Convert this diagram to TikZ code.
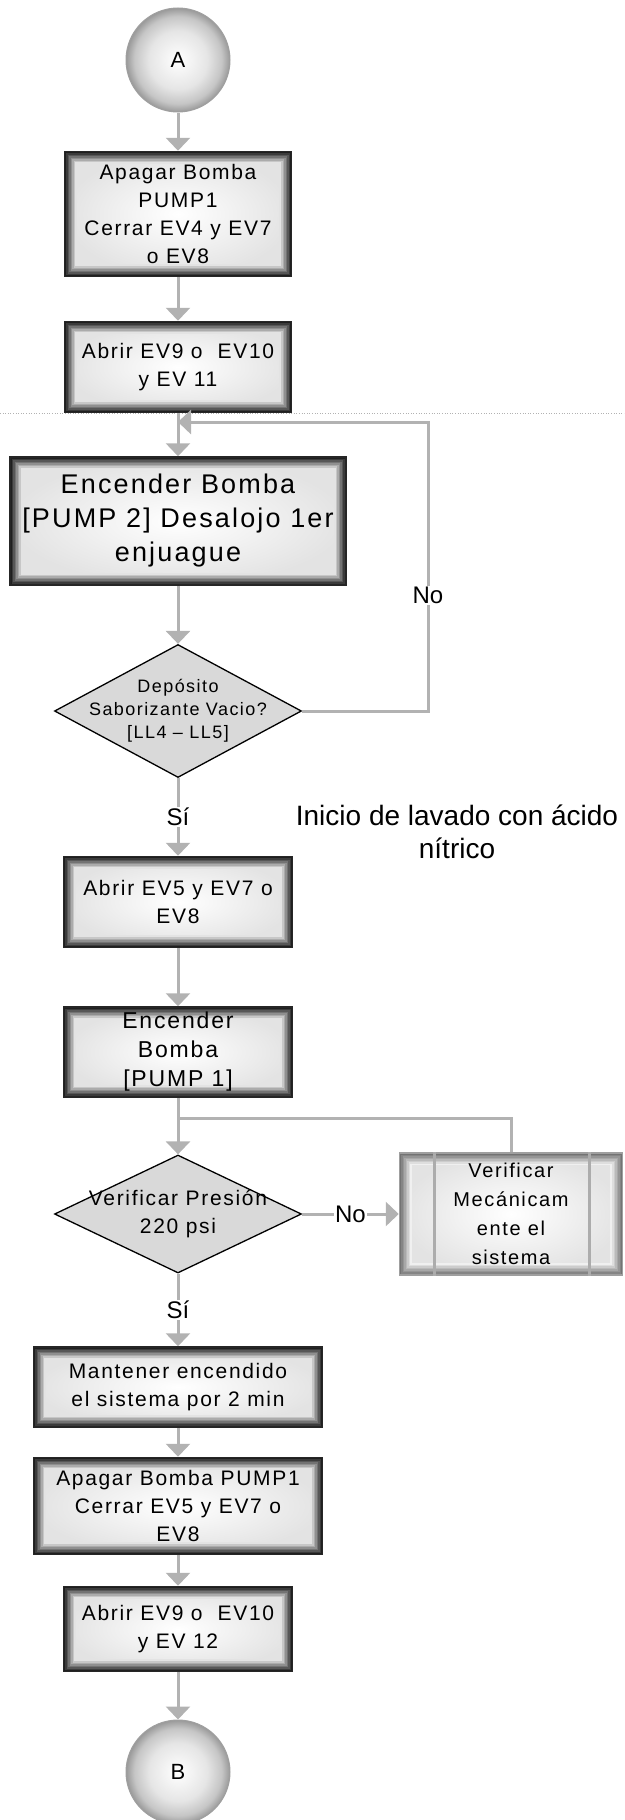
\documentclass[tikz,border=0pt]{standalone}
\usepackage{fontspec}
\setmainfont{Liberation Sans}
\newfontfamily\boxfont{Liberation Sans}[LetterSpace=8]
\usetikzlibrary{shapes.geometric, arrows.meta}

% Shading for the connectors
\pgfdeclareradialshading{ballshade}{\pgfpoint{0bp}{0bp}}{color(0bp)=(white); color(14bp)=(gray!20); color(21bp)=(gray!45); color(25bp)=(gray!80); color(50bp)=(gray!80)}

\tikzset{
    frame/.style={path picture={
        \foreach \i in {0,...,7}{
            \pgfmathtruncatemacro\tone{#1*(1-\i/8)}
            \draw[black!\tone, line width=1.6pt]
                ([shift={(\i*1.5pt+0.8pt,-\i*1.5pt-0.8pt)}]path picture bounding box.north west) rectangle
                ([shift={(-\i*1.5pt-0.8pt,\i*1.5pt+0.8pt)}]path picture bounding box.south east);
        }}},
    frame/.default=88,
    proc/.style={rectangle, draw=black!85, line width=1.5pt, inner color=white, outer color=gray!22, frame,
        align=center, inner sep=0pt, font=\boxfont\fontsize{21}{28}\selectfont},
    decision/.style={diamond, draw=black, line width=1.3pt, fill=gray!30, inner sep=0pt},
    dtext/.style={align=center, inner sep=0pt, font=\boxfont\fontsize{18}{23}\selectfont},
    connector/.style={circle, draw=gray!75, line width=1pt, shading=ballshade,
        minimum size=104pt, font=\fontsize{22}{26}\selectfont},
    flow/.style={draw=gray!60, line width=3pt, -{Triangle[width=24pt,length=13pt]}},
    link/.style={draw=gray!60, line width=3pt},
    tag/.style={fill=white, inner sep=1pt, font=\fontsize{24}{28}\selectfont}
}

\begin{document}
\begin{tikzpicture}[x=1pt, y=-1pt]
        \useasboundingbox (0,0) rectangle (624,1820);

        % Separator
        \draw[dotted, gray!60, line width=0.6pt] (0,413) -- (624,413);

        % Blocks
        \node[connector] (a) at (178,60) {A};
        \node[proc, minimum width=227pt, minimum height=125pt] (off1) at (178,214) {Apagar Bomba\\PUMP1\\Cerrar EV4 y EV7\\o EV8};
        \node[proc, minimum width=227pt, minimum height=91pt] (open1) at (178,367) {Abrir EV9 o\ \ EV10\\y EV 11};
        \node[proc, minimum width=336pt, minimum height=128pt, font=\boxfont\fontsize{27}{34}\selectfont] (pump2) at (178,521) {Encender Bomba\\{[PUMP 2]} Desalojo 1er\\enjuague};
        \node[decision, minimum width=247pt, minimum height=133pt] (tank) at (178,711) {};
        \node[dtext] (tanktxt) at (tank) {Depósito\\Saborizante Vacio?\\{[LL4 – LL5]}};
        \node[font=\fontsize{28}{33}\selectfont, align=center] (acid) at (457,832) {Inicio de lavado con ácido\\nítrico};
        \node[proc, minimum width=229pt, minimum height=91pt] (open2) at (178,902) {Abrir EV5 y EV7 o\\EV8};
        \node[proc, minimum width=229pt, minimum height=90pt, font=\boxfont\fontsize{23}{29}\selectfont] (pump1) at (178,1052) {Encender\\Bomba\\{[PUMP 1]}};
        \node[decision, minimum width=247pt, minimum height=118pt] (press) at (178,1214) {};
        \node[dtext, font=\boxfont\fontsize{21}{28}\selectfont] (presstxt) at (press) {Verificar Presión\\220 psi};
        \node[proc, draw=gray!75, frame=55, minimum width=223pt, minimum height=122pt,
            font=\boxfont\fontsize{20}{29}\selectfont] (mech) at (511,1214) {Verificar\\Mecánicam\\ente el\\sistema};
        \draw[gray!65, line width=3pt] ([xshift=36pt]mech.north west) -- ([xshift=36pt]mech.south west);
        \draw[gray!65, line width=3pt] ([xshift=-34pt]mech.north east) -- ([xshift=-34pt]mech.south east);
        \node[proc, minimum width=289pt, minimum height=80pt] (keep) at (178,1387) {Mantener encendido\\el sistema por 2 min};
        \node[proc, minimum width=289pt, minimum height=97pt] (off2) at (178,1506) {Apagar Bomba PUMP1\\Cerrar EV5 y EV7 o\\EV8};
        \node[proc, minimum width=229pt, minimum height=85pt] (open3) at (178,1629) {Abrir EV9 o\ \ EV10\\y EV 12};
        \node[connector] (b) at (178,1772) {B};

        % Flow
        \coordinate (loop1) at (428,422);
        \coordinate (back1) at (178,422);
        \coordinate (back2) at (178,1118);
        \draw[flow] (a) -- (off1);
        \draw[flow] (off1) -- (open1);
        \draw[flow] (open1) -- (pump2);
        \draw[flow] (pump2) -- (tank);
        \draw[flow] (tank.east) -| node[tag, pos=0.7] (no1) {No} (loop1) -- (back1);
        \draw[flow] (tank) -- node[tag] (si1) {Sí} (open2);
        \draw[flow] (open2) -- (pump1);
        \draw[flow] (pump1) -- (press);
        \draw[link] (mech.north) |- (back2);
        \draw[flow] (press) -- node[tag] (no2) {No} (mech);
        \draw[flow] (press) -- node[tag] (si2) {Sí} (keep);
        \draw[flow] (keep) -- (off2);
        \draw[flow] (off2) -- (open3);
        \draw[flow] (open3) -- (b);
\end{tikzpicture}
\end{document}
